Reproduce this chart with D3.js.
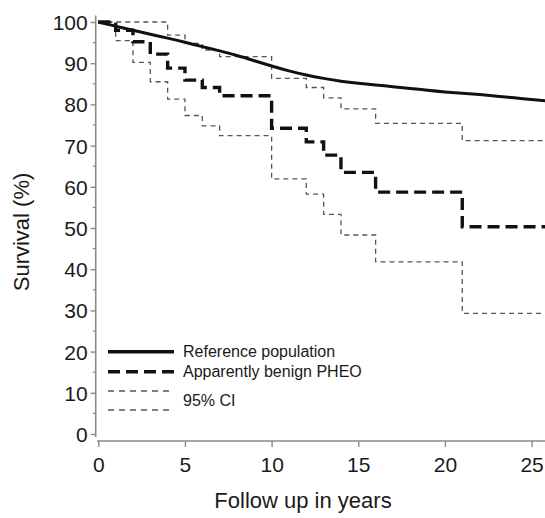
<!DOCTYPE html>
<html>
<head>
<meta charset="utf-8">
<script src="https://cdnjs.cloudflare.com/ajax/libs/d3/7.8.5/d3.min.js"></script>
<style>
    body { margin: 0; background: #fff; }
    svg text { font-family: "Liberation Sans", Arial, Helvetica, sans-serif; fill: #1a1a1a; }
</style>
</head>
<body>
<div id="chart-container"></div>
<script>
//Reference population (expected survival), yearly
var refYears = [0,1,2,3,4,5,6,7,8,9,10,11,12,13,14,15,16,17,18,19,20,21,22,23,24,25,26];
var refSurv  = [100,99.0,98.0,97.0,96.1,95.1,94.0,93.0,91.9,90.6,89.3,88.1,87.1,86.3,85.6,85.1,84.7,84.3,83.9,83.4,83.0,82.7,82.4,82.0,81.6,81.2,80.8];

//Apparently benign PHEO, Kaplan-Meier steps
var pheoYears = [0,1,2,3,4,5,6,7,10,12,13,14,16,21,26];
var pheoSurv  = [100,98.0,95.2,92.2,88.8,85.9,84.1,82.1,74.2,70.9,67.7,63.5,58.7,50.3,50.3];

//95% CI bounds
var upperYears = [0,4,5,6,7,10,12,13,14,16,21,26];
var upperSurv  = [100,96.8,94.8,93.2,91.6,86.3,84.1,81.6,78.9,75.4,71.2,71.2];
var lowerYears = [0,1,2,3,4,5,6,7,10,12,13,14,16,21,26];
var lowerSurv  = [100,95.5,90.2,85.5,81.3,77.3,74.8,72.4,61.9,58.2,53.3,48.3,41.8,29.3,29.3];

//Tick labels
var yTicks = [0,10,20,30,40,50,60,70,80,90,100];
var yMinor = [5,15,25,35,45,55,65,75,85,95];
var xTicks = [0,5,10,15,20,25];

var legendLabels = ["Reference population", "Apparently benign PHEO", "95% CI"];

var w = 545;
var h = 518;

var svg = d3.select("#chart-container").append("svg")
    .attr("width", w).attr("height", h);

//Scales
var xScale = d3.scaleLinear().domain([0, 25]).range([98.3, 531.6]);
var yScale = d3.scaleLinear().domain([0, 100]).range([434, 22]);

var axisColor = "#8a8a8a";

//Y axis
var yAxis = d3.axisLeft(yScale).tickValues(yTicks).tickSize(5).tickPadding(3);
var gy = svg.append("g")
    .attr("transform", "translate(95.7,0)")
    .call(yAxis);
gy.select(".domain").remove();
gy.selectAll("line").attr("stroke", axisColor).attr("stroke-width", 1.4);
gy.selectAll("text").style("font-size", "21px").attr("dy", "0.36em");
gy.append("line")
    .attr("x1", 0).attr("x2", 0)
    .attr("y1", yScale(101.6)).attr("y2", yScale(-0.7))
    .attr("stroke", axisColor).attr("stroke-width", 1.6);
gy.selectAll(".minor")
    .data(yMinor)
    .enter()
    .append("line")
    .attr("class", "minor")
    .attr("x1", -3).attr("x2", 0)
    .attr("y1", function(d){ return yScale(d); })
    .attr("y2", function(d){ return yScale(d); })
    .attr("stroke", axisColor).attr("stroke-width", 1.2);

//X axis
var xAxis = d3.axisBottom(xScale).tickValues(xTicks).tickSize(6).tickPadding(10);
var gx = svg.append("g")
    .attr("transform", "translate(0,441)")
    .call(xAxis);
gx.select(".domain").remove();
gx.selectAll("line").attr("stroke", axisColor).attr("stroke-width", 1.4);
gx.selectAll("text").style("font-size", "21px");
gx.append("line")
    .attr("x1", 97).attr("x2", w)
    .attr("y1", 0).attr("y2", 0)
    .attr("stroke", axisColor).attr("stroke-width", 1.6);

//Axis titles
svg.append("text")
    .attr("transform", "translate(29,232) rotate(-90)")
    .attr("text-anchor", "middle")
    .style("font-size", "22px")
    .text("Survival (%)");

svg.append("text")
    .attr("x", 303).attr("y", 508)
    .attr("text-anchor", "middle")
    .style("font-size", "22px")
    .text("Follow up in years");

//Line generators
var stepLine = d3.line()
    .x(function(d){ return xScale(d[0]); })
    .y(function(d){ return yScale(d[1]); })
    .curve(d3.curveStepAfter);

var smoothLine = d3.line()
    .x(function(d){ return xScale(d[0]); })
    .y(function(d){ return yScale(d[1]); })
    .curve(d3.curveBasis);

function pairs(xs, ys){
    return xs.map(function(x, i){ return [x, ys[i]]; });
}

//CI lines first so the main lines sit on top
[[upperYears, upperSurv], [lowerYears, lowerSurv]].forEach(function(s){
    svg.append("path")
        .datum(pairs(s[0], s[1]))
        .attr("d", stepLine)
        .attr("fill", "none")
        .attr("stroke", "#555")
        .attr("stroke-width", 1.3)
        .attr("stroke-dasharray", "5,4");
});

svg.append("path")
    .datum(pairs(pheoYears, pheoSurv))
    .attr("d", stepLine)
    .attr("fill", "none")
    .attr("stroke", "#111")
    .attr("stroke-width", 3.4)
    .attr("stroke-dasharray", "12,6");

svg.append("path")
    .datum(pairs(refYears, refSurv))
    .attr("d", smoothLine)
    .attr("fill", "none")
    .attr("stroke", "#111")
    .attr("stroke-width", 3);

//Legend
var legend = svg.append("g");
var lx1 = 108, lx2 = 174;

legend.append("line")
    .attr("x1", lx1).attr("x2", lx2).attr("y1", 351.7).attr("y2", 351.7)
    .attr("stroke", "#111").attr("stroke-width", 3.4);
legend.append("line")
    .attr("x1", lx1).attr("x2", lx2).attr("y1", 371.7).attr("y2", 371.7)
    .attr("stroke", "#111").attr("stroke-width", 3.6)
    .attr("stroke-dasharray", "12,6");
[391, 410].forEach(function(y){
    legend.append("line")
        .attr("x1", lx1).attr("x2", lx2).attr("y1", y).attr("y2", y)
        .attr("stroke", "#555").attr("stroke-width", 1.3)
        .attr("stroke-dasharray", "6,5");
});

legend.selectAll("text")
    .data(legendLabels)
    .enter()
    .append("text")
    .attr("x", 183)
    .attr("y", function(d, i){ return [357, 377, 406][i]; })
    .style("font-size", "16px")
    .text(function(d){ return d; });
</script>
</body>
</html>
